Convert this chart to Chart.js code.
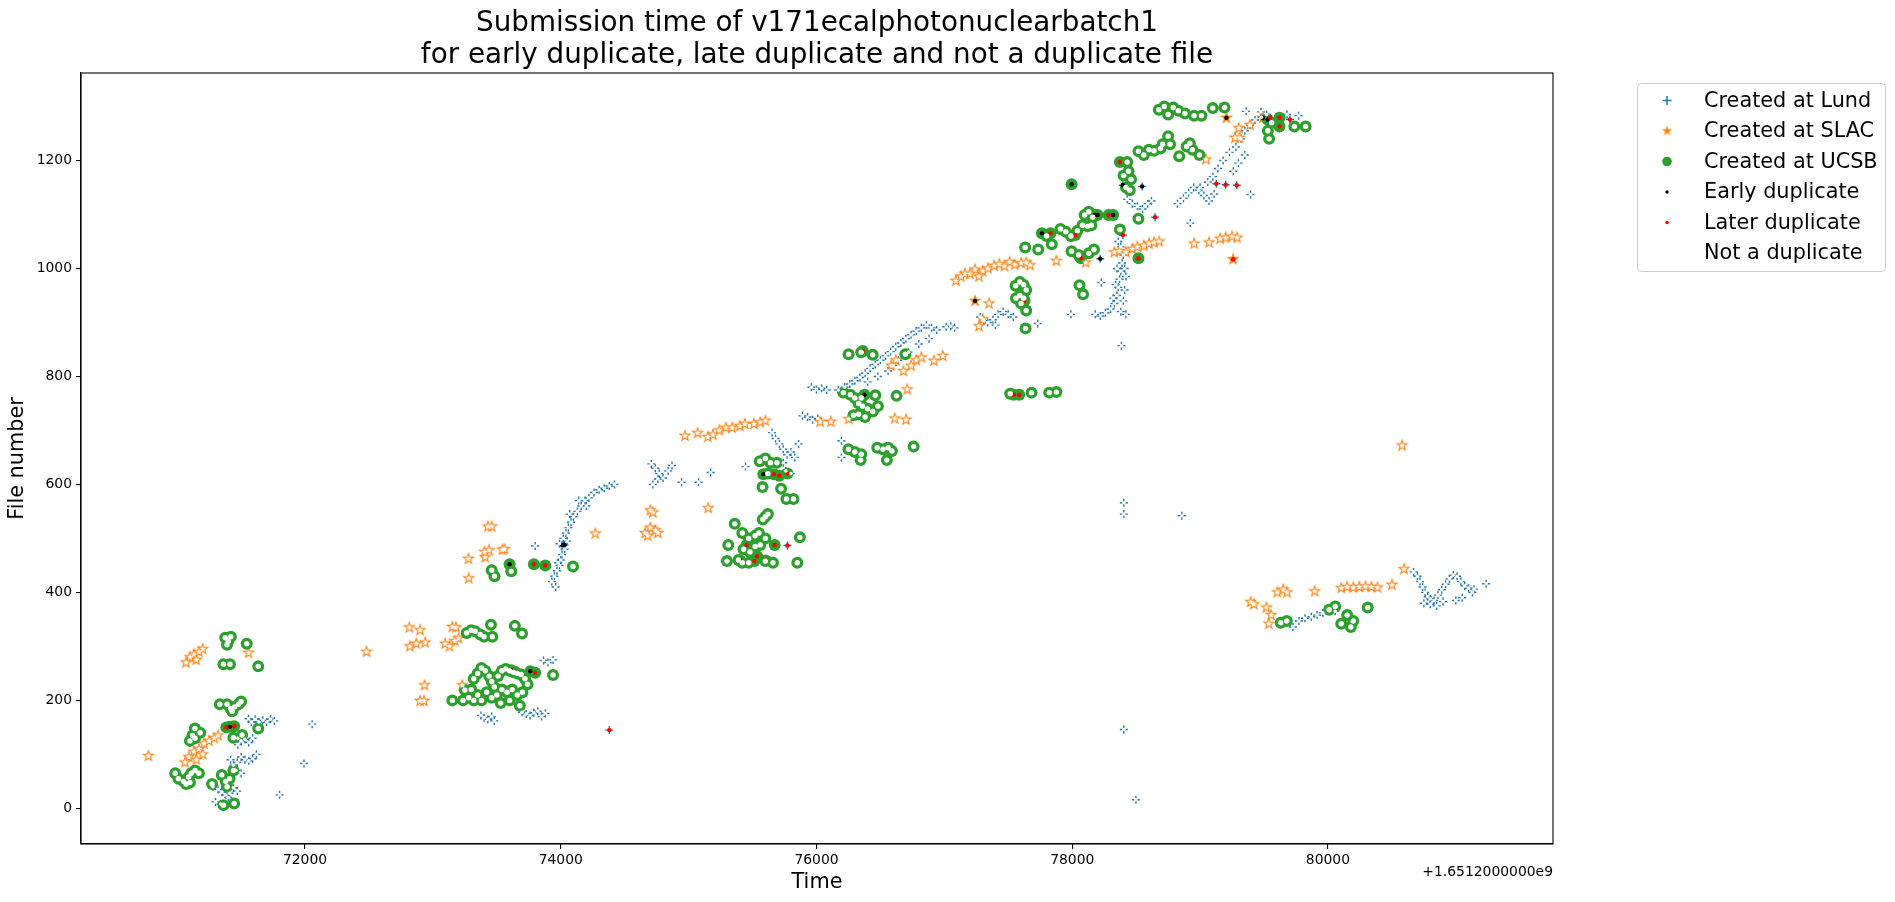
<!DOCTYPE html>
<html>
<head>
<meta charset="utf-8">
<script src="https://cdn.jsdelivr.net/npm/chart.js@4.4.0/dist/chart.umd.min.js"></script>
<style>
body { margin: 0; background: #fff; }
canvas { display: block; }
</style>
</head>
<body>
<canvas id="myChart" width="1895" height="902"></canvas>
<script>
// times are seconds after 1.6512e9, like the axis offset
const offsetLabel = '+1.6512000000e9';
const titleLines = ['Submission time of v171ecalphotonuclearbatch1', 'for early duplicate, late duplicate and not a duplicate file'];
const legendLabels = ['Created at Lund', 'Created at SLAC', 'Created at UCSB', 'Early duplicate', 'Later duplicate', 'Not a duplicate'];
const xTicks = [72000, 74000, 76000, 78000, 80000];
const yTicks = [0, 200, 400, 600, 800, 1000, 1200];

const lund = [
  [71280,40],[71320,35],[71350,30],[71380,25],[71410,28],[71440,38],[71470,32],[71400,20],[71300,12],[71340,8],
  [71418,90],[71440,80],[71470,85],[71500,95],[71530,90],[71560,88],[71590,92],[71620,100],[71460,70],[71500,65],
  [71474,130],[71500,125],[71530,128],[71560,122],[71590,130],[71475,118],
  [71558,166],[71580,160],[71610,165],[71640,160],[71670,163],[71700,160],[71730,165],[71760,162],
  [72056,156],[71992,83],[71801,25],
  [73376,172],[73400,168],[73430,165],[73460,170],[73480,162],
  [73697,178],[73730,175],[73760,172],[73790,177],[73820,180],[73850,170],[73880,176],
  [73865,274],[73900,270],[73940,275],[73800,486],
  [73930,420],[73950,430],[73970,440],[73990,450],[74000,460],[74010,470],[73990,490],[74020,500],[74040,510],[74060,520],
  [74080,530],[74100,540],[74130,550],[74160,560],[74190,570],[74220,575],[74260,585],[74300,590],[74340,593],[74380,597],
  [74420,600],[73960,410],[74030,480],[74070,545],[74140,570],[74200,560],[73980,455],[74050,495],[74010,488],[74020,488],[74030,488],
  [74380,145],
  [74708,638],[74740,630],[74770,620],[74800,612],[74840,625],[74870,635],[74720,600],[74760,610],
  [74945,604],[75078,604],[75172,622],[75445,633],
  [75653,696],[75680,685],[75710,675],[75740,665],[75770,655],[75800,660],[75830,650],[75860,675],[75740,640],[75760,625],[75800,620],
  [75773,487],
  [75960,780],[76000,776],[76040,778],[76080,775],[75890,727],[75930,725],[75970,720],[76010,722],[76195,681],[76195,650],
  [76170,775],[76220,780],[76260,786],[76300,792],[76340,798],[76380,806],[76420,815],[76460,822],[76500,830],[76540,838],
  [76580,846],[76620,855],[76660,862],[76700,870],[76740,877],[76780,884],[76820,890],[76860,895],[76900,890],[76940,886],
  [76880,870],[76800,860],[76720,845],[76640,830],[76560,810],[76480,800],[76400,790],[76600,820],
  [77015,892],[77050,893],[77080,890],
  [77280,910],[77310,903],[77340,900],[77380,905],[77420,915],[77460,920],[77500,915],[77540,910],[77400,895],
  [77730,898],[77990,915],
  [78180,915],[78220,912],[78260,918],[78300,925],[78330,935],[78350,950],[78360,965],[78370,980],[78380,995],[78390,1010],
  [78400,1025],[78380,1040],[78360,1050],[78350,1000],[78340,970],[78320,945],[78410,960],[78420,985],[78400,940],[78380,920],
  [78420,915],[78410,1000],[78227,974],
  [78219,1018],[78396,1062],[78648,1095],
  [78430,1128],[78470,1120],[78510,1115],[78550,1110],[78590,1120],[78620,1125],
  [78823,1120],[78870,1130],[78910,1140],[78950,1150],[78990,1145],[79030,1135],[79070,1125],[79110,1138],
  [79395,1137],[78923,1084],
  [79000,1150],[79060,1160],[79100,1170],[79140,1185],[79180,1200],[79230,1215],[79280,1225],[79320,1240],[79350,1255],[79390,1265],
  [79430,1275],[79480,1280],[79520,1285],[79300,1195],[79350,1210],[79260,1180],
  [79360,1291],[79476,1290],[79680,1285],[79770,1283],
  [79127,1157],[79200,1155],[79287,1154],[78396,1154],[78547,1152],[79549,1279],[79703,1276],
  [78385,857],[78404,566],[78404,545],[78857,542],[78404,146],[78498,16],
  [79726,336],[79773,347],[79820,352],[79870,355],[79915,358],[79960,362],[80057,365],
  [80670,438],[80700,430],[80720,420],[80740,410],[80760,400],[80780,392],[80800,388],[80830,385],[80860,395],[80890,405],
  [80920,415],[80950,425],[80980,432],[81010,430],[81040,420],[81070,412],[81100,408],[81130,400],[80750,380],[80800,378],
  [80850,375],[81000,385],[81050,390],[80900,383],[81143,406],[81237,416]
];

const slac = [
  [70775,97],
  [71060,85],[71090,95],[71130,105],[71170,110],[71210,120],[71250,125],[71290,130],[71320,135],[71150,90],[71200,100],
  [71070,270],[71100,280],[71130,285],[71170,290],[71200,295],[71150,275],[71558,288],
  [72481,290],
  [72816,335],[72900,330],[72820,300],[72870,305],[72940,307],
  [73152,336],[73180,335],[73096,305],[73130,300],[73170,310],[73200,315],
  [72934,228],[72900,199],[72930,199],[73230,228],
  [73430,522],[73460,522],[73404,475],[73440,478],[73543,479],[73560,480],[73278,462],[73409,465],[73280,426],
  [74270,509],
  [74700,552],[74720,548],[74660,510],[74700,520],[74740,515],[74680,505],[74760,510],[75153,556],
  [74972,690],[75070,695],[75150,688],[75190,692],[75240,700],[75290,705],[75340,705],[75400,708],[75440,712],[75510,712],
  [75560,715],[75600,718],
  [76028,716],[76112,716],[76251,721],[76612,722],[76700,720],[76710,776],
  [76585,820],[76620,830],[76680,810],[76740,820],[76780,830],[76820,835],[76918,829],[76987,838],
  [77240,940],[77350,935],[77270,893],[77300,906],
  [77090,977],[77130,985],[77160,990],[77200,990],[77240,998],[77270,985],[77300,995],[77340,1000],[77390,1005],[77430,1008],
  [77470,1004],[77510,1012],[77550,1007],[77600,1010],[77640,1011],[77670,1006],
  [77876,1014],[78105,1011],
  [78329,1030],[78370,1032],[78420,1030],[78470,1036],[78510,1040],[78560,1042],[78600,1046],[78640,1048],[78680,1050],
  [78953,1046],[79070,1048],[79157,1055],[79200,1057],[79250,1059],[79290,1057],[79258,1017],
  [79046,1202],[79302,1260],[79308,1242],[79389,1266],[79273,1242],[79206,1279],[79491,1279],
  [80580,672],
  [79395,382],[79420,378],[79518,372],[79603,400],[79650,405],[79680,400],[79537,342],[79556,358],[79896,402],[80104,408],
  [80150,410],[80198,409],[80245,410],[80293,411],[80340,410],[80387,409],[80500,414],[80595,443]
];

const ucsb = [
  [71376,316],[71400,310],[71420,318],[71390,303],[71544,305],[71362,267],[71413,267],[71634,263],
  [71334,193],[71390,193],[71418,185],[71450,188],[71480,193],[71500,198],[71430,180],
  [71139,148],[71100,125],[71140,130],[71180,140],[71120,135],[71385,150],[71413,151],[71446,152],
  [71440,131],[71508,136],[71634,148],
  [70985,65],[71010,55],[71050,50],[71090,58],[71110,65],[71140,70],[71170,65],[71070,45],[71100,48],
  [71273,45],[71349,62],[71380,50],[71410,55],[71440,70],[71390,40],[71362,6],[71446,9],
  [73152,200],[73236,200],[73250,219],
  [73264,325],[73300,330],[73330,328],[73370,322],[73400,318],[73454,340],[73465,318],[73641,338],[73697,324],
  [73320,240],[73350,250],[73380,260],[73410,255],[73440,245],[73460,235],[73480,225],[73510,245],[73540,255],[73570,258],
  [73600,255],[73630,252],[73660,250],[73690,248],[73720,240],[73740,230],[73700,215],[73660,210],[73620,220],[73580,215],
  [73540,220],[73500,210],[73460,205],[73420,215],[73380,200],[73350,210],[73320,200],[73280,205],[73300,220],[73530,195],
  [73600,200],[73680,190],[73613,256],[73641,253],[73762,254],[73800,251],[73940,247],
  [73600,452],[73790,452],[73879,450],[73460,441],[73482,430],[73613,439],[74096,448],
  [75361,527],[75420,510],[75470,500],[75520,505],[75550,510],[75600,500],[75430,480],[75480,475],[75520,485],[75560,488],
  [75310,488],[75300,458],[75390,460],[75420,455],[75470,455],[75600,458],[75660,455],[75870,502],[75850,455],
  [75453,488],[75673,488],[75536,467],[75514,458],[75603,459],[75403,459],
  [75600,540],[75620,545],[75580,535],[75578,595],[75723,592],[75765,573],[75820,573],
  [75556,643],[75600,648],[75640,640],[75690,640],[75620,620],[75584,619],[75667,619],[75709,616],[75773,620],
  [76265,766],[76300,760],[76330,750],[76360,745],[76400,740],[76440,735],[76480,745],[76380,725],[76330,730],[76290,728],
  [76350,760],[76460,765],[76210,770],[76376,766],[76626,764],
  [76251,841],[76350,845],[76440,840],[76362,847],[76695,841],
  [76250,665],[76300,660],[76350,656],[76345,645],[76475,668],[76520,665],[76560,668],[76590,662],[76550,645],[76760,670],
  [77557,968],[77590,975],[77620,970],[77640,960],[77560,945],[77620,945],[77590,950],[77600,935],[77640,922],[77627,940],
  [78057,969],[78085,952],[77635,889],
  [77515,768],[77543,766],[77585,766],[77682,770],[77820,770],[77876,771],
  [78677,1294],[78720,1300],[78750,1285],[78790,1298],[78830,1292],[78881,1287],[78953,1283],[79011,1283],[79099,1297],[79191,1298],
  [78750,1245],[78765,1230],[78707,1230],
  [78518,1217],[78560,1210],[78600,1220],[78640,1218],[78690,1222],[78837,1208],[78895,1226],[78920,1232],[78940,1220],[78995,1210],
  [78373,1197],[78430,1197],[77995,1156],
  [78402,1172],[78440,1180],[78460,1165],[78420,1150],[78450,1145],
  [78097,1099],[78130,1105],[78160,1095],[78175,1099],[78198,1099],[78120,1078],[78150,1080],
  [77908,1073],[77950,1068],[77990,1060],[78040,1070],[78080,1080],[78024,1062],
  [77763,1065],[77800,1060],[77830,1065],[77840,1045],[77632,1039],[77734,1035],
  [78285,1099],[78320,1099],[78518,1092],[78373,1072],
  [77995,1032],[78050,1025],[78068,1019],[78130,1028],[78170,1035],[78518,1019],
  [79528,1276],[79560,1270],[79621,1279],[79530,1255],[79540,1240],[79621,1263],[79737,1263],[79825,1263],
  [79631,344],[79678,347],[80009,368],[80057,374],[80150,358],[80198,347],[80179,336],[80104,342],[80311,372]
];

const early = [
  [71413,151],[73600,452],[73613,256],[73762,254],[74010,488],[74020,488],[74030,488],[75403,459],[75584,619],[76376,766],
  [77240,940],[77763,1065],[77995,1156],[78175,1099],[78198,1099],[78320,1099],[78219,1018],[78396,1154],[78547,1152],
  [79206,1279],[79491,1279],[79528,1276]
];

const later = [
  [71385,150],[71446,152],[73641,253],[73800,251],[73790,452],[73879,450],[74380,145],[75453,488],[75673,488],[75536,467],
  [75514,458],[75603,459],[75773,487],[75667,619],[75709,616],[75773,620],[76362,847],[77543,766],[77585,766],[77627,940],
  [77830,1065],[78024,1062],[78068,1019],[78285,1099],[78373,1197],[78396,1062],[78518,1019],[78648,1095],[79127,1157],
  [79200,1155],[79287,1154],[79258,1017],[79549,1279],[79621,1279],[79703,1276],[79621,1263]
];

const colors = { lund: '#1f77b4', slac: '#ff7f0e', ucsb: '#2ca02c', early: '#000000', later: '#ff0000' };
const FONT = '"DejaVu Sans", sans-serif';

function starCanvas(R, color) {
  const size = Math.ceil(R * 2 + 2);
  const c = document.createElement('canvas');
  c.width = size; c.height = size;
  const g = c.getContext('2d');
  g.fillStyle = color;
  g.beginPath();
  for (let i = 0; i < 10; i++) {
    const r = i % 2 ? R * 0.382 : R;
    const a = -Math.PI / 2 + i * Math.PI / 5;
    g.lineTo(size / 2 + r * Math.cos(a), size / 2 + r * Math.sin(a));
  }
  g.closePath();
  g.fill();
  return c;
}

const slacStar = starCanvas(7, colors.slac);
const whiteStar = starCanvas(3.8, '#ffffff');
const legendStar = starCanvas(5.5, colors.slac);

function toPts(arr) {
  return arr.map(p => ({ x: p[0], y: p[1] }));
}

// everything that is not an early or later duplicate gets a white centre
const dupKeys = new Set(early.concat(later).map(p => p.join(',')));
const notDup = [];
[['lund', lund], ['slac', slac], ['ucsb', ucsb]].forEach(([site, arr]) => {
  arr.forEach(p => {
    if (!dupKeys.has(p.join(','))) notDup.push({ x: p[0], y: p[1], site: site });
  });
});
const whiteStyle = { lund: 'circle', slac: whiteStar, ucsb: 'circle' };
const whiteRadius = { lund: 1.8, slac: 4, ucsb: 2.7 };

const frameAndText = {
  id: 'frameAndText',
  afterDraw(chart) {
    const ctx = chart.ctx;
    const a = chart.chartArea;
    ctx.save();
    ctx.strokeStyle = '#000';
    ctx.lineWidth = 1.1;
    ctx.strokeRect(a.left, a.top, a.right - a.left, a.bottom - a.top);

    ctx.fillStyle = '#000';
    ctx.textAlign = 'center';
    ctx.textBaseline = 'alphabetic';
    ctx.font = '27.8px ' + FONT;
    const cx = (a.left + a.right) / 2;
    ctx.fillText(titleLines[0], cx, 30.5);
    ctx.fillText(titleLines[1], cx, 63);

    ctx.font = '13.9px ' + FONT;
    ctx.textAlign = 'right';
    ctx.fillText(offsetLabel, a.right, 876);

    // legend box
    const lx = 1637.5, ly = 83.5, lw = 248, lh = 188, rr = 4;
    ctx.beginPath();
    ctx.moveTo(lx + rr, ly);
    ctx.arcTo(lx + lw, ly, lx + lw, ly + lh, rr);
    ctx.arcTo(lx + lw, ly + lh, lx, ly + lh, rr);
    ctx.arcTo(lx, ly + lh, lx, ly, rr);
    ctx.arcTo(lx, ly, lx + lw, ly, rr);
    ctx.closePath();
    ctx.fillStyle = 'rgba(255,255,255,0.8)';
    ctx.fill();
    ctx.strokeStyle = '#cccccc';
    ctx.lineWidth = 1;
    ctx.stroke();

    ctx.font = '20.8px ' + FONT;
    ctx.textAlign = 'left';
    legendLabels.forEach((label, i) => {
      const base = 106.5 + i * 30.5;
      const my = base - 6;
      const mx = 1667;
      ctx.fillStyle = '#000';
      ctx.fillText(label, 1704, base);
      if (i === 0) {
        ctx.strokeStyle = colors.lund;
        ctx.lineWidth = 1.5;
        ctx.beginPath();
        ctx.moveTo(mx - 4.5, my); ctx.lineTo(mx + 4.5, my);
        ctx.moveTo(mx, my - 4.5); ctx.lineTo(mx, my + 4.5);
        ctx.stroke();
      } else if (i === 1) {
        ctx.drawImage(legendStar, mx - legendStar.width / 2, my - legendStar.height / 2);
      } else if (i === 2) {
        ctx.fillStyle = colors.ucsb;
        ctx.beginPath(); ctx.arc(mx, my, 4.8, 0, Math.PI * 2); ctx.fill();
      } else if (i === 3 || i === 4) {
        ctx.fillStyle = i === 3 ? colors.early : colors.later;
        ctx.beginPath(); ctx.arc(mx, my, 1.8, 0, Math.PI * 2); ctx.fill();
      }
    });
    ctx.restore();
  }
};

const tickFont = { family: FONT, size: 13.9 };
const labelFont = { family: FONT, size: 20.8 };

const config = {
  type: 'scatter',
  data: {
    datasets: [
      { label: legendLabels[0], data: toPts(lund), order: 5, pointStyle: 'cross', pointRadius: 4,
        pointBorderWidth: 1.4, pointBorderColor: colors.lund, pointBackgroundColor: colors.lund },
      { label: legendLabels[1], data: toPts(slac), order: 4, pointStyle: slacStar, pointRadius: 6 },
      { label: legendLabels[2], data: toPts(ucsb), order: 3, pointStyle: 'circle', pointRadius: 6,
        pointBorderWidth: 0, pointBackgroundColor: colors.ucsb },
      { label: legendLabels[3], data: toPts(early), order: 2, pointStyle: 'circle', pointRadius: 2.2,
        pointBorderWidth: 0, pointBackgroundColor: colors.early },
      { label: legendLabels[4], data: toPts(later), order: 1, pointStyle: 'circle', pointRadius: 2.2,
        pointBorderWidth: 0, pointBackgroundColor: colors.later },
      { label: legendLabels[5], data: notDup, order: 0,
        pointStyle: c => (c.raw ? whiteStyle[c.raw.site] : 'circle'),
        pointRadius: c => (c.raw ? whiteRadius[c.raw.site] : 2),
        pointBorderWidth: 0, pointBackgroundColor: '#ffffff' }
    ]
  },
  options: {
    responsive: false,
    animation: false,
    events: [],
    layout: { padding: { top: 73, right: 342, bottom: 0, left: 0 } },
    plugins: { legend: { display: false }, tooltip: { enabled: false }, title: { display: false } },
    scales: {
      x: {
        type: 'linear', position: 'bottom', min: 70248, max: 81760,
        afterFit: s => { s.height = 58; },
        afterBuildTicks: s => { s.ticks = xTicks.map(v => ({ value: v })); },
        grid: { drawOnChartArea: false, tickLength: 5, color: '#000', lineWidth: 1.1 },
        border: { display: true, color: '#000', width: 1.1 },
        ticks: { font: tickFont, color: '#000', padding: 3, maxRotation: 0, callback: v => String(v) },
        title: { display: true, text: 'Time', font: labelFont, color: '#000', padding: { top: 0, bottom: 7 } }
      },
      y: {
        type: 'linear', position: 'left', min: -66, max: 1362,
        afterFit: s => { s.width = 81; },
        afterBuildTicks: s => { s.ticks = yTicks.map(v => ({ value: v })); },
        grid: { drawOnChartArea: false, tickLength: 5, color: '#000', lineWidth: 1.1 },
        border: { display: true, color: '#000', width: 1.1 },
        ticks: { font: tickFont, color: '#000', padding: 4, callback: v => String(v) },
        title: { display: true, text: 'File number', font: labelFont, color: '#000', padding: { top: 5, bottom: 0 } }
      }
    }
  },
  plugins: [frameAndText]
};

const myChart = new Chart(document.getElementById('myChart'), config);
</script>
</body>
</html>
